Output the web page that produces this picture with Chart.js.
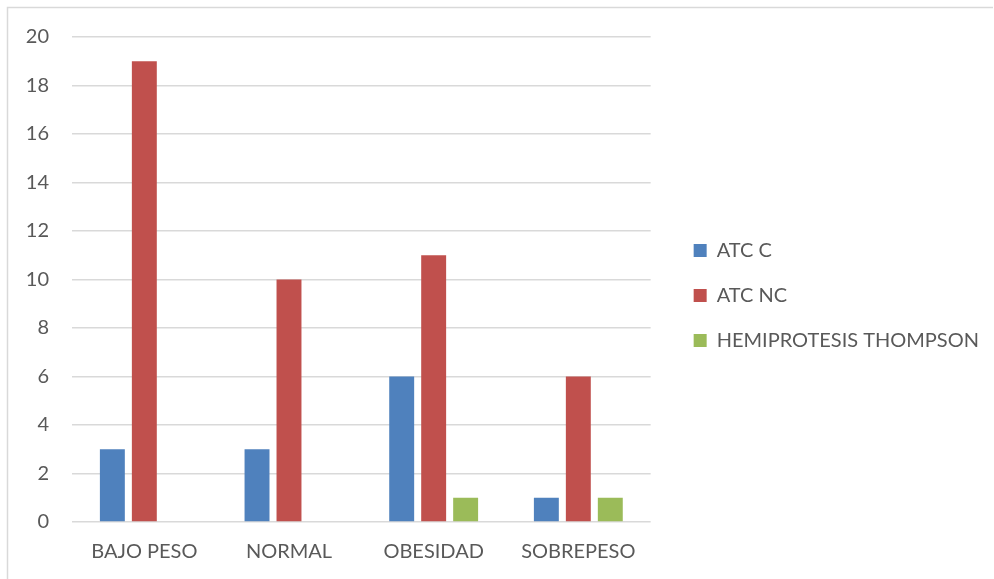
<!DOCTYPE html>
<html>
<head>
<meta charset="utf-8">
<script src="https://cdn.jsdelivr.net/npm/chart.js@4/dist/chart.umd.min.js"></script>
<style>
  html, body { margin: 0; padding: 0; background: #ffffff; overflow: hidden; }
  #wrap { position: relative; width: 994px; height: 579px; }
  canvas { display: block; }
</style>
</head>
<body>
<div id="wrap"><canvas id="chart" width="994" height="579"></canvas></div>
<script>
// Weight groups and surgery counts
const categories = ['BAJO PESO', 'NORMAL', 'OBESIDAD', 'SOBREPESO'];
const seriesNames = ['ATC C', 'ATC NC', 'HEMIPROTESIS THOMPSON'];
const atcC = [3, 3, 6, 1];
const atcNC = [19, 10, 11, 6];
const hemiThompson = [0, 0, 1, 1];
const seriesColors = ['#4F81BD', '#C0504D', '#9BBB59'];

const textColor = '#595959';
const gridColor = '#D9D9D9';
const fontFamily = 'Lato, "Liberation Sans", sans-serif';

// Light frame along the top and left edges of the canvas
const framePlugin = {
  id: 'frame',
  beforeDraw(chart) {
    const ctx = chart.ctx;
    ctx.save();
    ctx.fillStyle = '#ffffff';
    ctx.fillRect(0, 0, chart.width, chart.height);
    ctx.strokeStyle = gridColor;
    ctx.lineWidth = 1.5;
    ctx.beginPath();
    ctx.moveTo(7.5, chart.height);
    ctx.lineTo(7.5, 7.5);
    ctx.lineTo(993, 7.5);
    ctx.stroke();
    ctx.restore();
  }
};

// Invisible spacer axis with a fixed thickness
const spacer = (position, size) => ({
  type: position === 'top' ? 'category' : 'linear',
  position,
  display: true,
  grid: { display: false, drawTicks: false },
  border: { display: false },
  ticks: { display: false },
  afterFit(scale) {
    if (scale.isHorizontal()) scale.height = size; else scale.width = size;
  }
});

new Chart(document.getElementById('chart'), {
  type: 'bar',
  data: {
    labels: categories,
    datasets: [
      { label: seriesNames[0], data: atcC, backgroundColor: seriesColors[0] },
      { label: seriesNames[1], data: atcNC, backgroundColor: seriesColors[1] },
      { label: seriesNames[2], data: hemiThompson, backgroundColor: seriesColors[2] }
    ]
  },
  options: {
    responsive: false,
    animation: false,
    devicePixelRatio: 1,
    datasets: {
      bar: { categoryPercentage: 0.663, barPercentage: 0.78 }
    },
    layout: { padding: { left: 26, top: 19, right: 5, bottom: 7 } },
    plugins: {
      tooltip: { enabled: false },
      legend: {
        position: 'right',
        maxWidth: 420,
        labels: {
          color: textColor,
          font: { family: fontFamily, size: 20 },
          boxWidth: 13,
          boxHeight: 13,
          padding: 25
        }
      }
    },
    scales: {
      x: {
        grid: { display: false, drawTicks: false },
        border: { display: false },
        ticks: { color: textColor, font: { family: fontFamily, size: 20 }, padding: 18, maxRotation: 0 },
        afterFit(scale) { scale.height = 50; }
      },
      y: {
        min: 0,
        max: 20,
        grid: { color: gridColor, lineWidth: 1.5, drawTicks: false },
        border: { display: false },
        ticks: { stepSize: 2, color: textColor, font: { family: fontFamily, size: 20 }, padding: 23 },
        afterFit(scale) { scale.width = 46; }
      },
      // space above the plot and between the plot and the legend
      topGap: spacer('top', 18),
      gap: spacer('right', 18)
    }
  },
  plugins: [framePlugin]
});
</script>
</body>
</html>
